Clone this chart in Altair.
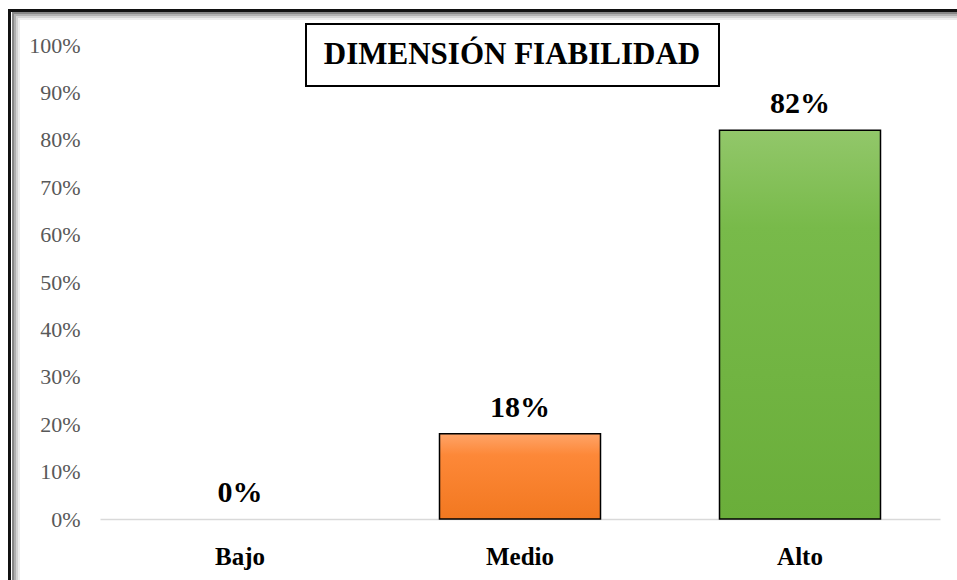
import altair as alt
import pandas as pd

categories = ["Bajo", "Medio", "Alto"]
percent = [0, 18, 82]
labels = ["0%", "18%", "82%"]
bar_top = ["#ffa468", "#ffa468", "#92c76a"]
bar_mid = ["#fd8838", "#fd8838", "#78ba4a"]
bar_bottom = ["#f27820", "#f27820", "#6aae3a"]
chart_title = "DIMENSIÓN FIABILIDAD"

df = pd.DataFrame({"cat": categories, "pct": percent, "label": labels})

FONT = "Liberation Serif"
W, H = 840, 474

x_enc = alt.X(
    "cat:N",
    sort=categories,
    scale=alt.Scale(paddingInner=0.425, paddingOuter=0.2125),
    axis=alt.Axis(
        title=None,
        labelAngle=0,
        labelFont=FONT,
        labelFontSize=25,
        labelFontWeight="bold",
        labelColor="#000000",
        labelPadding=25,
        ticks=False,
        domainColor="#d9d9d9",
        domainWidth=1.5,
    ),
)
y_enc = alt.Y(
    "pct:Q",
    scale=alt.Scale(domain=[0, 100]),
    axis=alt.Axis(
        title=None,
        values=list(range(0, 101, 10)),
        labelExpr="datum.value + '%'",
        labelFont=FONT,
        labelFontSize=22,
        labelColor="#595959",
        labelPadding=20,
        ticks=False,
        domain=False,
        grid=False,
    ),
)

# one bar layer per category so each gets its own gradient fill
bars = []
for cat, top, mid, bottom in zip(categories, bar_top, bar_mid, bar_bottom):
    bars.append(
        alt.Chart(df)
        .transform_filter((alt.datum.cat == cat) & (alt.datum.pct > 0))
        .mark_bar(
            stroke="#000000",
            strokeWidth=1.5,
            color=alt.Gradient(
                gradient="linear",
                x1=0, y1=0, x2=0, y2=1,
                stops=[
                    alt.GradientStop(color=top, offset=0),
                    alt.GradientStop(color=mid, offset=0.25),
                    alt.GradientStop(color=bottom, offset=1),
                ],
            ),
        )
        .encode(x=x_enc, y=y_enc)
    )

values = (
    alt.Chart(df)
    .mark_text(font=FONT, fontSize=30, fontWeight="bold", color="#000000",
               baseline="bottom", dy=-11)
    .encode(x=alt.X("cat:N", sort=categories), y="pct:Q", text="label:N")
)

# outer frame (open on the right) with a soft inner shadow
shadow_layers = []
for i, (grey, op) in enumerate([("#7a7a7a", 0.55), ("#9a9a9a", 0.4),
                                ("#bdbdbd", 0.3), ("#dedede", 0.25)]):
    off = 2 * i
    shadow_layers.append(
        alt.Chart(df).mark_rect(fill=None, stroke=grey, strokeWidth=2, opacity=op)
        .encode(x=alt.value(-87 + off), x2=alt.value(900),
                y=alt.value(-32 + off), y2=alt.value(560))
    )
frame = alt.Chart(df).mark_rect(
    fill=None, stroke="#111111", strokeWidth=3
).encode(x=alt.value(-90.5), x2=alt.value(900), y=alt.value(-34.5), y2=alt.value(560))

# boxed title
title_box = alt.Chart(df).mark_rect(
    fill="#ffffff", stroke="#000000", strokeWidth=2
).encode(x=alt.value(206), x2=alt.value(619), y=alt.value(-21), y2=alt.value(41))
title_text = alt.Chart(pd.DataFrame({"t": [chart_title]})).mark_text(
    font=FONT, fontSize=31, fontWeight="bold", color="#000000", baseline="middle"
).encode(x=alt.value(412), y=alt.value(10), text="t:N")

chart = (
    alt.layer(*shadow_layers, frame, *bars, values, title_box, title_text)
    .properties(
        width=W,
        height=H,
        background="#ffffff",
        autosize=alt.AutoSizeParams(type="none"),
        padding={"left": 100, "top": 45, "right": 17, "bottom": 61},
    )
    .configure_view(strokeWidth=0, stroke="transparent")
)

chart.save("out.html", embed_options={"renderer": "svg", "actions": False})
